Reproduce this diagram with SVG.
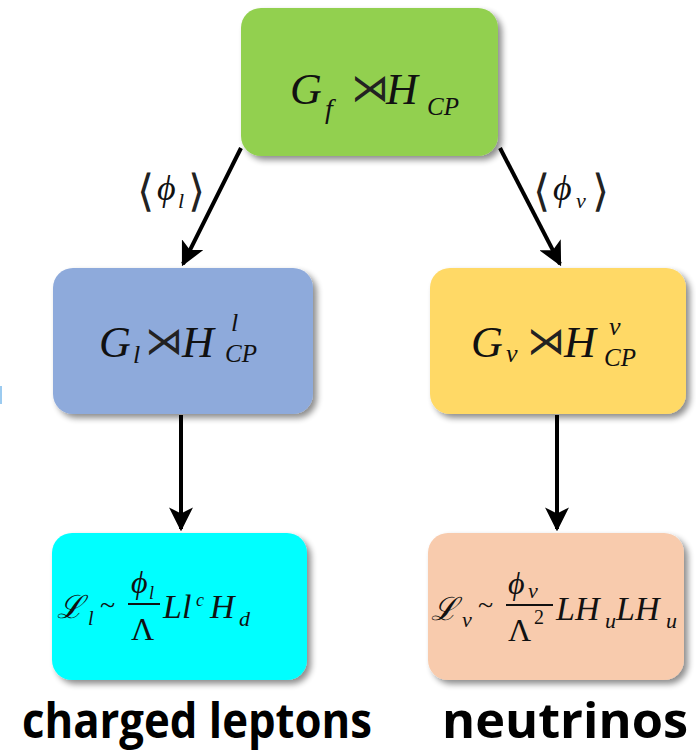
<svg xmlns="http://www.w3.org/2000/svg" width="696" height="754" viewBox="0 0 696 754">
<style>
.box{stroke:none;filter:url(#sh)}
.m{font-family:"Liberation Serif","DejaVu Serif",serif;font-style:italic;fill:#111}
.r{font-family:"Liberation Serif","DejaVu Serif",serif;font-style:normal;fill:#111}
.sym{font-family:"DejaVu Sans","Liberation Serif",sans-serif;font-weight:200;font-style:normal;fill:#222}
.lbl{font-family:"Open Sans","Liberation Sans",sans-serif;font-weight:bold;font-size:49px;fill:#000}
.conn{stroke:#000;stroke-width:4;fill:none;marker-end:url(#ah)}
</style>
<defs>
<filter id="sh" x="-10%" y="-10%" width="125%" height="125%">
<feGaussianBlur in="SourceAlpha" stdDeviation="3"/>
<feOffset dx="4" dy="4" result="b"/>
<feComponentTransfer><feFuncA type="linear" slope="0.45"/></feComponentTransfer>
<feMerge><feMergeNode/><feMergeNode in="SourceGraphic"/></feMerge>
</filter>
<marker id="ah" viewBox="0 0 10 10" refX="9" refY="5" markerWidth="6" markerHeight="6" orient="auto" markerUnits="strokeWidth">
<path d="M0,0 L10,5 L0,10 L2.5,5 Z" fill="#000"/>
</marker>
</defs>
<rect x="0" y="386" width="2" height="18" fill="#9ccbf0"/>
<g id="connectors">
<line class="conn" x1="241" y1="148" x2="183" y2="264"/>
<line class="conn" x1="500" y1="148" x2="560" y2="264"/>
<line class="conn" x1="181" y1="415" x2="181" y2="529"/>
<line class="conn" x1="557" y1="415" x2="557" y2="529"/>
<text class="sym" x="137" y="206" font-size="44">⟨</text>
<text class="m" x="157" y="200" font-size="36">ϕ</text>
<text class="m" x="178" y="208" font-size="22">l</text>
<text class="sym" x="188" y="206" font-size="44">⟩</text>
<text class="sym" x="533" y="206" font-size="44">⟨</text>
<text class="m" x="553" y="200" font-size="36">ϕ</text>
<text class="m" x="576" y="208" font-size="22">ν</text>
<text class="sym" x="592" y="206" font-size="44">⟩</text>
</g>
<g id="top">
<rect class="box" x="241" y="8" width="257" height="148" rx="20" fill="#92d050"/>
<text class="m" x="290" y="104" font-size="44">G</text>
<text class="m" x="325" y="118" font-size="28">f</text>
<text class="sym" x="351" y="101" font-size="38">⋊</text>
<text class="m" x="386" y="104" font-size="44">H</text>
<text class="m" x="427" y="115" font-size="25">CP</text>
</g>
<g id="leptonGroup">
<rect class="box" x="53" y="268" width="260" height="146" rx="20" fill="#8eaadb"/>
<text class="m" x="99" y="357" font-size="44">G</text>
<text class="m" x="133" y="363" font-size="26">l</text>
<text class="sym" x="145" y="354" font-size="38">⋊</text>
<text class="m" x="182" y="357" font-size="44">H</text>
<text class="m" x="231" y="331" font-size="26">l</text>
<text class="m" x="225" y="362" font-size="25">CP</text>
</g>
<g id="neutrinoGroup">
<rect class="box" x="430" y="268" width="256" height="146" rx="20" fill="#ffd966"/>
<text class="m" x="471" y="357" font-size="44">G</text>
<text class="m" x="506" y="362" font-size="26">ν</text>
<text class="sym" x="527" y="354" font-size="38">⋊</text>
<text class="m" x="564" y="357" font-size="44">H</text>
<text class="m" x="609" y="335" font-size="26">ν</text>
<text class="m" x="604" y="366" font-size="25">CP</text>
</g>
<g id="leptonLag">
<rect class="box" x="52" y="533" width="255" height="147" rx="20" fill="#00ffff"/>
<text class="m" x="57" y="618" font-size="32">ℒ</text>
<text class="m" x="88" y="625" font-size="20">l</text>
<text class="r" x="100" y="614" font-size="28">~</text>
<text class="m" x="131" y="593" font-size="32">ϕ</text>
<text class="m" x="149" y="599" font-size="18">l</text>
<line x1="128" y1="604" x2="160" y2="604" stroke="#111" stroke-width="2"/>
<text class="r" x="131" y="640" font-size="32">Λ</text>
<text class="m" x="163" y="618" font-size="34">Ll</text>
<text class="m" x="196" y="606" font-size="18">c</text>
<text class="m" x="210" y="618" font-size="34">H</text>
<text class="m" x="239" y="626" font-size="22">d</text>
</g>
<g id="neutrinoLag">
<rect class="box" x="428" y="533" width="256" height="147" rx="20" fill="#f8cbad"/>
<text class="m" x="431" y="620" font-size="32">ℒ</text>
<text class="m" x="462" y="627" font-size="22">ν</text>
<text class="r" x="478" y="614" font-size="28">~</text>
<text class="m" x="508" y="594" font-size="32">ϕ</text>
<text class="m" x="528" y="598" font-size="22">ν</text>
<line x1="506" y1="605" x2="553" y2="605" stroke="#111" stroke-width="2"/>
<text class="r" x="508" y="641" font-size="32">Λ</text>
<text class="r" x="534" y="624" font-size="20">2</text>
<text class="m" x="556" y="620" font-size="34">LH</text>
<text class="m" x="605" y="628" font-size="22">u</text>
<text class="m" x="616" y="620" font-size="34">LH</text>
<text class="m" x="666" y="628" font-size="22">u</text>
</g>
<g id="labels">
<text class="lbl" x="22" y="738" textLength="350" lengthAdjust="spacingAndGlyphs">charged leptons</text>
<text class="lbl" x="442" y="738" textLength="246" lengthAdjust="spacingAndGlyphs">neutrinos</text>
</g>
</svg>
